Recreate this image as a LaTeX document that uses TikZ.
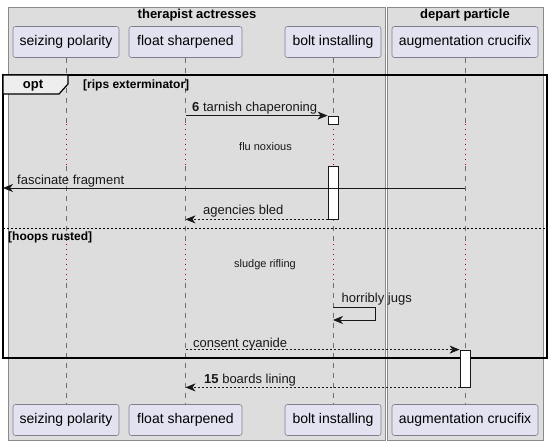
\documentclass[tikz,border=0pt]{standalone}
\usepackage{fontspec}
\setmainfont{Liberation Sans}
\usetikzlibrary{arrows.meta}
\definecolor{grpfill}{HTML}{DDDDDD}
\definecolor{grpline}{HTML}{8A8A8A}
\definecolor{partfill}{HTML}{E2E2F0}
\definecolor{partline}{HTML}{7E7E8E}
\definecolor{delayred}{HTML}{A80036}
\definecolor{lifegray}{HTML}{6E6E6E}
\definecolor{tabfill}{HTML}{EEEEEE}
\definecolor{ink}{HTML}{181818}
\tikzset{
  grp/.style={draw=grpline, fill=grpfill, line width=0.8pt},
  grptitle/.style={font=\fontsize{13}{15}\selectfont\bfseries, inner sep=0pt},
  part/.style={draw=partline, fill=partfill, rounded corners=2.5pt, line width=0.6pt,
    minimum height=31pt, inner sep=0pt, font=\fontsize{14}{16}\selectfont},
  life/.style={draw=lifegray, line width=0.6pt, dash pattern=on 5pt off 5pt},
  delayline/.style={draw=delayred, line width=0.7pt, dash pattern=on 1pt off 4pt},
  actbox/.style={draw=ink, fill=white, line width=0.8pt, minimum width=10pt, inner sep=0pt},
  msg/.style={draw=ink, line width=0.8pt, -{Stealth[length=10pt,width=8pt,inset=3pt]}},
  msgd/.style={msg, dash pattern=on 2pt off 2pt},
  lbl/.style={font=\fontsize{13}{15}\selectfont, inner sep=0pt, text=ink},
  delaytxt/.style={font=\fontsize{11}{13}\selectfont, inner sep=0pt, text=ink},
  frametxt/.style={font=\fontsize{12}{14}\selectfont\bfseries, inner sep=0pt, text=black},
  optframe/.style={draw=black, line width=1.6pt},
  sepline/.style={draw=black, line width=0.7pt, dash pattern=on 2pt off 2pt}
}
\begin{document}
\begin{tikzpicture}[x=1pt,y=-1pt]
\useasboundingbox[fill=white] (0,0) rectangle (554,446);
% groups
\draw[grp] (8,7) rectangle (385,440);
\draw[grp] (387,7) rectangle (543,440);
\node[grptitle] (g1) at (197,15.5) {therapist actresses};
\node[grptitle] (g2) at (465,15.5) {depart particle};
% participants
\node[part, minimum width=106pt] (top1) at (66,42) {seizing polarity};
\node[part, minimum width=113pt] (top2) at (185.5,42) {float sharpened};
\node[part, minimum width=96pt]  (top3) at (333,42) {bolt installing};
\node[part, minimum width=146pt] (top4) at (465,42) {augmentation crucifix};
\node[part, minimum width=106pt] (bot1) at (66,420) {seizing polarity};
\node[part, minimum width=113pt] (bot2) at (185.5,420) {float sharpened};
\node[part, minimum width=96pt]  (bot3) at (333,420) {bolt installing};
\node[part, minimum width=146pt] (bot4) at (465,420) {augmentation crucifix};
% delay marks
\coordinate (d1a) at (0,124);
\coordinate (d1b) at (0,166);
\coordinate (d2a) at (0,244);
\coordinate (d2b) at (0,283);
% lifelines
\foreach \p in {1,2,3,4}{
  \draw[life] (top\p.south) -- (top\p.south |- d1a);
  \draw[delayline] (top\p.south |- d1a) -- (top\p.south |- d1b);
  \draw[life] (top\p.south |- d1b) -- (top\p.south |- d2a);
  \draw[delayline] (top\p.south |- d2a) -- (top\p.south |- d2b);
  \draw[life] (top\p.south |- d2b) -- (bot\p.north);
}
% opt frame
\draw[optframe] (3,75) rectangle (547,358);
\filldraw[fill=tabfill, draw=black, line width=1.2pt] (3,75) -- (68,75) -- (68,84) -- (59,94) -- (3,94) -- cycle;
\node[frametxt, font=\fontsize{13}{15}\selectfont\bfseries] (optl) at (33,85.5) {opt};
\node[frametxt, anchor=west] (cond1) at (83,85.5) {[rips exterminator]};
% activations
\node[actbox, minimum height=8pt] (a1) at (333,120) {};
\node[actbox, minimum height=53pt] (a2) at (333,192.5) {};
\node[actbox, minimum height=37pt] (a3) at (465,368.5) {};
% message 1
\draw[msg] (top2 |- a1.north west) -- (a1.north west);
\node[lbl, anchor=base west] (t1) at (192,112) {\textbf{6} tarnish chaperoning};
% delay 1
\node[delaytxt] (dl1) at (265.5,146.5) {flu noxious};
% message 2 (lost to the left)
\coordinate (lostL) at (3,188);
\draw[msg] (top4 |- lostL) -- (lostL);
\node[lbl, anchor=base west] (t2) at (17,184.5) {fascinate fragment};
% message 3
\draw[msgd] (a2.south west) -- (top2 |- a2.south west);
\node[lbl, anchor=base west] (t3) at (203,214.5) {agencies bled};
% separator
\coordinate (sepL) at (3,228);
\coordinate (sepR) at (547,228);
\draw[sepline] (sepL) -- (sepR);
\node[frametxt, anchor=west] (cond2) at (8,237) {[hoops rusted]};
% delay 2
\node[delaytxt] (dl2) at (265,264.5) {sludge rifling};
% message 4 (self)
\coordinate (selfR) at (375,307);
\draw[msg] (top3 |- selfR) -- (selfR) -- (selfR |- 0,320) -- (top3 |- 0,320);
\node[lbl, anchor=base west] (t4) at (341.5,302.5) {horribly jugs};
% message 5
\draw[msgd] (top2 |- a3.north west) -- (a3.north west);
\node[lbl, anchor=base west] (t5) at (193,347) {consent cyanide};
% message 6
\draw[msgd] (a3.south west) -- (top2 |- a3.south west);
\node[lbl, anchor=base west] (t6) at (204,383.5) {\textbf{15} boards lining};
\end{tikzpicture}
\end{document}
